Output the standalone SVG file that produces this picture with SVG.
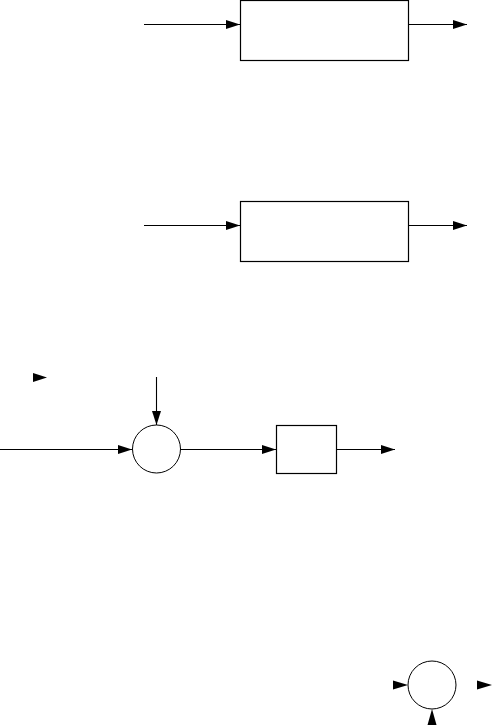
<svg xmlns="http://www.w3.org/2000/svg" width="493" height="726" viewBox="0 0 493 726">
<style>
.box{fill:#fff;stroke:#000;stroke-width:1.2}
.sum{fill:#fff;stroke:#000;stroke-width:1}
.ln{fill:none;stroke:#000;stroke-width:1.1}
.ah{fill:#000;stroke:none}
</style>
<defs>
<marker id="arr" markerUnits="userSpaceOnUse" markerWidth="15" markerHeight="10" refX="14" refY="4.5" orient="auto">
<path d="M0,0 L14,4.5 L0,9 Z" fill="#000"/>
</marker>
</defs>
<rect width="493" height="726" fill="#fff"/>
<g id="block1"><rect class="box" x="240.5" y="0.5" width="168" height="60"/></g>
<g id="block2"><rect class="box" x="240.5" y="201.5" width="168" height="60"/></g>
<g id="sum1"><circle class="sum" cx="156.5" cy="449" r="24"/></g>
<g id="block3"><rect class="box" x="276.5" y="425.5" width="60" height="48"/></g>
<g id="sum2"><circle class="sum" cx="432" cy="685" r="24"/></g>
<g id="connectors">
<line class="ln" x1="144" y1="24.5" x2="240" y2="24.5" marker-end="url(#arr)"/>
<line class="ln" x1="408.5" y1="24.5" x2="467" y2="24.5" marker-end="url(#arr)"/>
<line class="ln" x1="144" y1="225.5" x2="240" y2="225.5" marker-end="url(#arr)"/>
<line class="ln" x1="408.5" y1="225.5" x2="467" y2="225.5" marker-end="url(#arr)"/>
<line class="ln" x1="0" y1="449.5" x2="132" y2="449.5" marker-end="url(#arr)"/>
<line class="ln" x1="156.5" y1="377" x2="156.5" y2="425" marker-end="url(#arr)"/>
<line class="ln" x1="180.5" y1="449.5" x2="276" y2="449.5" marker-end="url(#arr)"/>
<line class="ln" x1="336.5" y1="449.5" x2="395" y2="449.5" marker-end="url(#arr)"/>
<polygon class="ah" points="33,373 47,377.5 33,382"/>
<polygon class="ah" points="393,680.5 408,685 393,689.5"/>
<polygon class="ah" points="477,680.5 492,685 477,689.5"/>
<polygon class="ah" points="427.5,725 432,709 436.5,725"/>
</g>
</svg>
